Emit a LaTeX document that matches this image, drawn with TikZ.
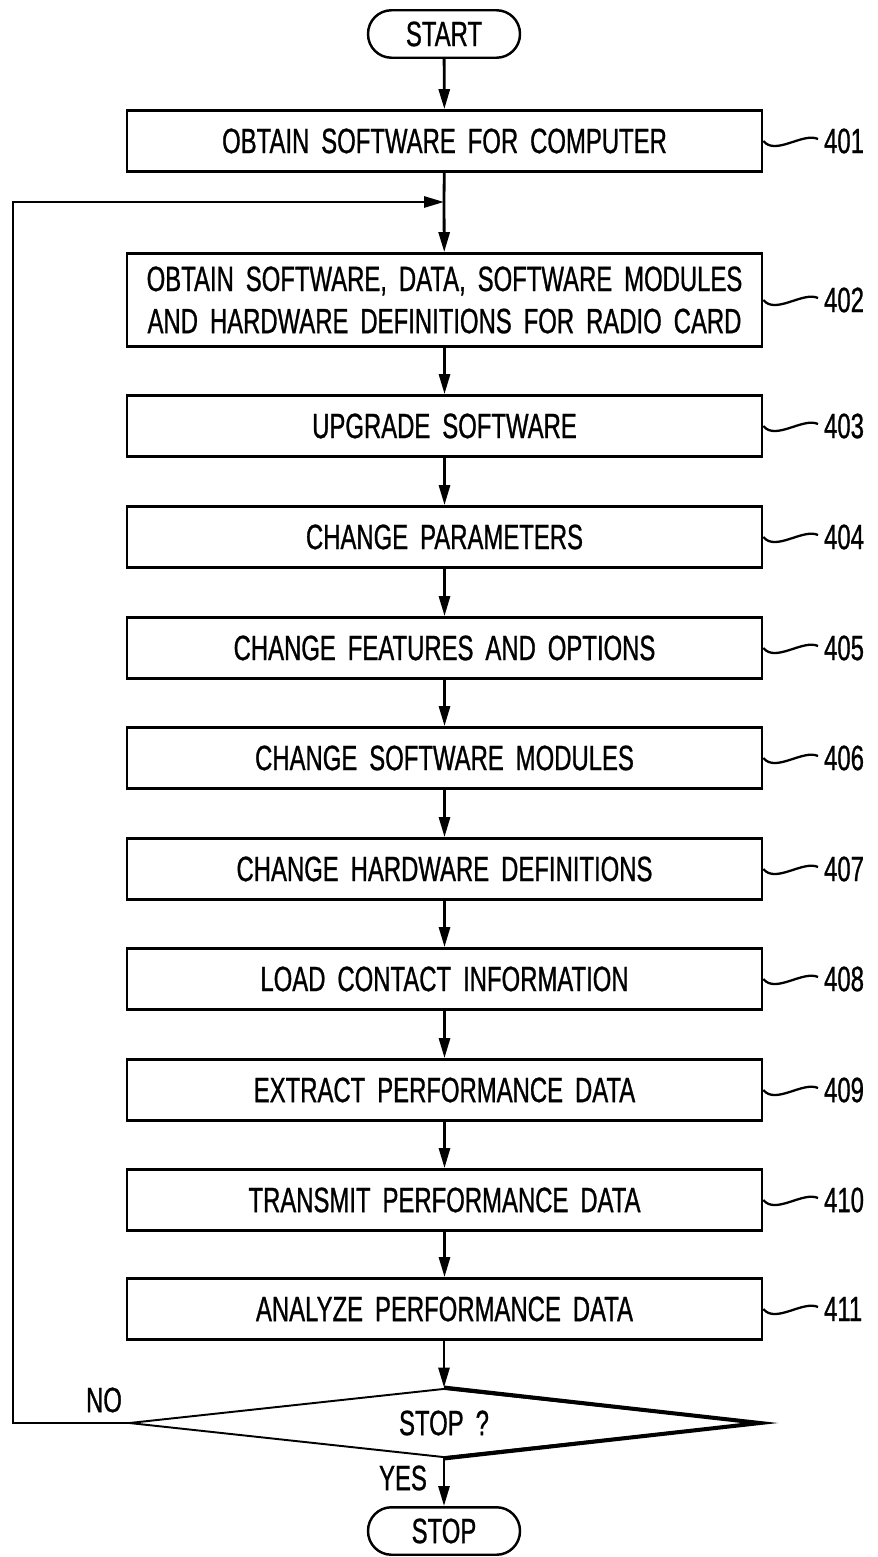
\documentclass[tikz,border=0pt]{standalone}
\usepackage{fontspec}
\newfontfamily\pfont{Liberation Sans}[FakeStretch=0.68, WordSpace=1.8, FakeBold=0.8]
\usetikzlibrary{arrows.meta,shapes.geometric}
\tikzset{
  box/.style={draw, line width=1.6pt, minimum width=12.7cm, minimum height=1.22cm, inner sep=0pt, align=center, font=\pfont\fontsize{20}{24}\selectfont},
  term/.style={draw, line width=1.4pt, rounded corners=0.47cm, minimum width=3.04cm, minimum height=0.95cm, inner sep=0pt, font=\pfont\fontsize{20}{24}\selectfont},
  decision/.style={draw, diamond, aspect=9, line width=1.1pt, minimum width=12.6cm, minimum height=1.38cm, inner sep=0pt, font=\pfont\fontsize{20}{24}\selectfont},
  heavy/.style={line width=2.3pt, line join=miter},
  flow/.style={line width=1.6pt, -{Triangle[length=0.4cm,width=0.22cm]}},
  plain/.style={line width=1.6pt},
  tag/.style={inner sep=1pt, font=\pfont\fontsize{20}{24}\selectfont},
  tilde/.style={line width=1.3pt},
}
\begin{document}
\begin{tikzpicture}[x=0.02cm,y=-0.02cm]
\useasboundingbox (0,0) rectangle (877,1557);
\node[term] (start) at (444,34) {START};
\node[box] (b401) at (444.5,141) {OBTAIN SOFTWARE FOR COMPUTER};
\coordinate (join) at (444,202);
\node[box, minimum height=1.86cm] (b402) at (444.5,300) {OBTAIN SOFTWARE, DATA, SOFTWARE MODULES\\AND HARDWARE DEFINITIONS FOR RADIO CARD};
\node[box] (b403) at (444.5,426) {UPGRADE SOFTWARE};
\node[box] (b404) at (444.5,537) {CHANGE PARAMETERS};
\node[box] (b405) at (444.5,648) {CHANGE FEATURES AND OPTIONS};
\node[box] (b406) at (444.5,758) {CHANGE SOFTWARE MODULES};
\node[box] (b407) at (444.5,869) {CHANGE HARDWARE DEFINITIONS};
\node[box] (b408) at (444.5,979) {LOAD CONTACT INFORMATION};
\node[box] (b409) at (444.5,1090) {EXTRACT PERFORMANCE DATA};
\node[box] (b410) at (444.5,1200) {TRANSMIT PERFORMANCE DATA};
\node[box] (b411) at (444.5,1309) {ANALYZE PERFORMANCE DATA};
\node[decision] (dec) at (444,1423) {STOP ?};
\draw[heavy] (dec.north) -- (dec.east) -- (dec.south);
\node[term] (stop) at (444,1531) {STOP};
% labels
\foreach \n/\y in {401/141,402/300,403/426,404/537,405/648,406/758,407/869,408/979,409/1090,410/1200,411/1309}{
  \node[tag, anchor=west] (l\n) at (822,\y) {\n};
  \draw[tilde] (b\n.east |- 0,\y) .. controls +(12,15) and +(-15,-7) .. ([xshift=-0.08cm,yshift=0.04cm]l\n.west);
}
% connectors
\draw[flow] (start) -- (b401);
\draw[plain] (b401) -- (join);
\draw[flow] (join) -- (b402);
\draw[flow] (b402) -- (b403);
\draw[flow] (b403) -- (b404);
\draw[flow] (b404) -- (b405);
\draw[flow] (b405) -- (b406);
\draw[flow] (b406) -- (b407);
\draw[flow] (b407) -- (b408);
\draw[flow] (b408) -- (b409);
\draw[flow] (b409) -- (b410);
\draw[flow] (b410) -- (b411);
\draw[flow] (b411.south -| dec.north) -- (dec.north);
\draw[flow] (dec.south) -- (stop.north -| dec.south);
\coordinate (lc) at (13,1423);
\coordinate (tc) at (13,202);
\draw[flow] (dec.west) -- (lc) -- (tc) -- (join);
\node[tag] (no) at (104,1400) {NO};
\node[tag] (yes) at (403,1478) {YES};
\end{tikzpicture}
\end{document}
